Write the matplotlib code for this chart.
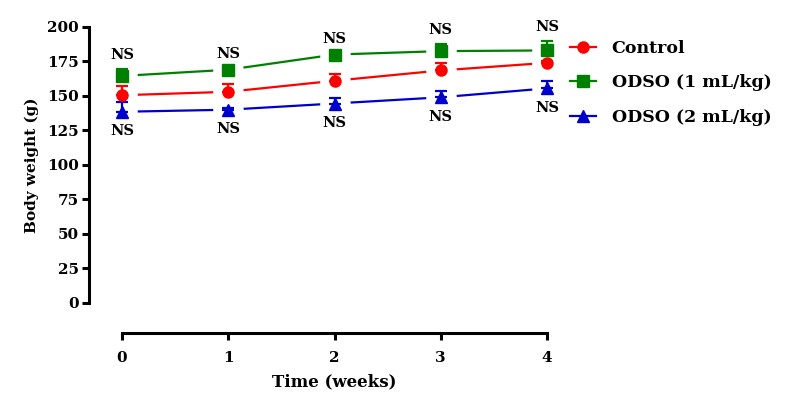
import numpy as np
import matplotlib
matplotlib.use("Agg")
import matplotlib.pyplot as plt

# data (mean and upper SEM)
weeks = [0, 1, 2, 3, 4]
control = [150.5, 153, 161, 168.5, 174]
control_sem = [6.5, 6, 5, 5.5, 1]
odso1 = [164.5, 169, 180, 182.5, 183]
odso1_sem = [5, 1, 1, 5.5, 7]
odso2 = [138.5, 140, 144.5, 149, 155.5]
odso2_sem = [7, 1, 4, 4.5, 5]
labels = ["Control", "ODSO (1 mL/kg)", "ODSO (2 mL/kg)"]
y_ticks = [0, 25, 50, 75, 100, 125, 150, 175, 200]

plt.rcParams['font.family'] = ['DejaVu Serif']
plt.rcParams['font.weight'] = 'bold'

fig = plt.figure(figsize=(7.85, 4.08), dpi=100)
ax = fig.add_axes([122 / 785, (408 - 302.7) / 408, (547 - 122) / 785, (302.7 - 27) / 408])

series = [
    (control, control_sem, "#ff0000", "o", labels[0]),
    (odso1, odso1_sem, "#008000", "s", labels[1]),
    (odso2, odso2_sem, "#0000cc", "^", labels[2]),
]

x = np.array(weeks)

# connecting lines
for vals, sem, col, mk, lab in series:
    ax.plot(x, vals, color=col, lw=1.6, zorder=1, clip_on=False)

# white halos to break the lines around the markers (Prism look)
for vals, sem, col, mk, lab in series:
    ax.plot(x, vals, ls="none", marker="o", ms=22, mfc="white", mec="none", zorder=2, clip_on=False)

handles = []
for vals, sem, col, mk, lab in series:
    eb = ax.errorbar(x, vals, yerr=[np.zeros(len(sem)), sem], fmt="none", ecolor=col,
                     elinewidth=1.6, capsize=4.5, capthick=1.6, zorder=3)
    for a in eb.lines[1] + eb.lines[2]:
        a.set_clip_on(False)
    ms = 8 if mk != "^" else 9
    ax.plot(x, vals, ls="none", marker=mk, ms=ms, color=col, zorder=4, clip_on=False)
    h, = ax.plot([], [], color=col, marker=mk, lw=1.6, ms=ms, label=lab)
    handles.append(h)

# NS labels above the top group and below the bottom group
for i in range(len(weeks)):
    ax.annotate("NS", (weeks[i], odso1[i] + odso1_sem[i]), xytext=(0, 10), textcoords="offset points",
                ha="center", va="center", fontsize=10.5, fontweight="bold", annotation_clip=False)
    ax.annotate("NS", (weeks[i], odso2[i]), xytext=(0, -14), textcoords="offset points",
                ha="center", va="center", fontsize=10.5, fontweight="bold", annotation_clip=False)

ax.set_xlim(0, 4)
ax.set_ylim(0, 200)
ax.set_xticks(weeks)
ax.set_yticks(y_ticks)
ax.tick_params(labelsize=11, width=2.2, length=5)
ax.tick_params(axis="x", pad=8)
ax.tick_params(axis="y", pad=2)
for lab in ax.get_xticklabels() + ax.get_yticklabels():
    lab.set_fontweight("bold")

for s in ["top", "right"]:
    ax.spines[s].set_visible(False)
ax.spines["left"].set_position(("outward", 24))
ax.spines["bottom"].set_position(("outward", 22))
ax.spines["left"].set_linewidth(2.2)
ax.spines["bottom"].set_linewidth(2.2)

ax.set_xlabel("Time (weeks)", fontsize=12, fontweight="bold", labelpad=6)
ax.set_ylabel("Body weight (g)", fontsize=11, fontweight="bold", labelpad=6)

fig.legend(handles=handles, loc="upper left", bbox_to_anchor=(570 / 785, 1 - 40 / 408),
           frameon=False, handlelength=1.5, handletextpad=0.9,
           labelspacing=1.0, borderpad=0, borderaxespad=0, prop={"weight": "bold", "size": 12.5})

fig.savefig("out.png", dpi=100)
